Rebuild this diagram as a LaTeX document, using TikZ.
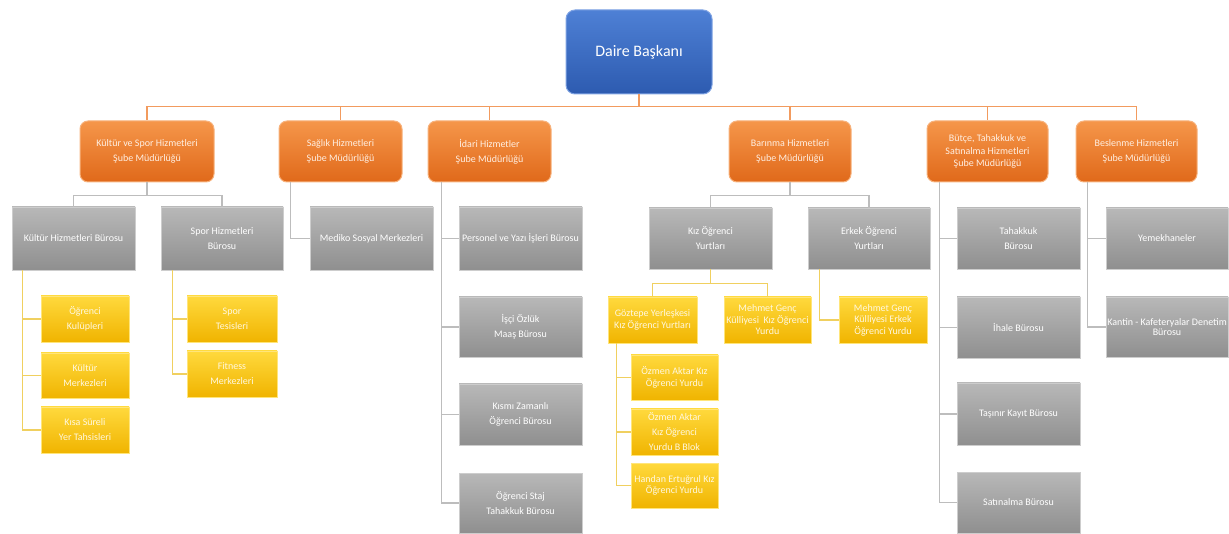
\documentclass[tikz,border=0pt]{standalone}
\usepackage{fontspec}
\setmainfont{Carlito}
\definecolor{blueA}{HTML}{4E80D5}
\definecolor{blueB}{HTML}{2D5BB0}
\definecolor{blueE}{HTML}{7FA3E3}
\definecolor{orA}{HTML}{F5964A}
\definecolor{orB}{HTML}{E0691A}
\definecolor{orE}{HTML}{F7B27C}
\definecolor{orT}{HTML}{FFEFE2}
\definecolor{grA}{HTML}{B8B8B8}
\definecolor{grB}{HTML}{8F8F8F}
\definecolor{grE}{HTML}{CDCDCD}
\definecolor{yeA}{HTML}{FFD93D}
\definecolor{yeB}{HTML}{F0B400}
\definecolor{yeE}{HTML}{FFE57A}
\definecolor{yeT}{HTML}{FFF8E0}
\definecolor{olc}{HTML}{F29B5E}
\definecolor{glc}{HTML}{BDBDBD}
\definecolor{ylc}{HTML}{F0D060}
\tikzset{
  base/.style={draw, inner sep=0pt, align=center, text=white, font=\fontsize{10}{15}\selectfont},
  bluebox/.style={base, rounded corners=9pt, top color=blueA, bottom color=blueB, draw=blueE, line width=1pt, font=\fontsize{16}{19}\selectfont},
  orbox/.style={base, rounded corners=8pt, top color=orA, bottom color=orB, draw=orE, line width=1pt, text=orT},
  grbox/.style={base, top color=grA, bottom color=grB, draw=grE, line width=0.8pt},
  yebox/.style={base, top color=yeA, bottom color=yeB, draw=yeE, line width=0.8pt, text=yeT},
  oline/.style={draw=olc, line width=1.2pt},
  gline/.style={draw=glc, line width=1.2pt},
  yline/.style={draw=ylc, line width=1.2pt},
  tight/.style={font=\fontsize{10}{11.5}\selectfont}
}
\newcommand\mkbox[7]{\node[#1, minimum width={#4-#2}, minimum height={#5-#3}] (#6) at ({(#2+#4)/2},{(#3+#5)/2}) {#7};}
\begin{document}
\begin{tikzpicture}[x=1pt,y=-1pt]
\useasboundingbox (0,0) rectangle (1229,534);
% top
\mkbox{bluebox}{566}{10}{712}{94}{top}{Daire Başkanı}
% level 1
\mkbox{orbox}{80}{121}{214}{182}{kul}{Kültür ve Spor Hizmetleri\\Şube Müdürlüğü}
\mkbox{orbox}{279}{121}{402}{182}{sag}{Sağlık Hizmetleri\\Şube Müdürlüğü}
\mkbox{orbox}{428}{121}{551}{182}{ida}{İdari Hizmetler\\Şube Müdürlüğü}
\mkbox{orbox}{729}{121}{851}{182}{bar}{Barınma Hizmetleri\\Şube Müdürlüğü}
\mkbox{orbox,font=\fontsize{10}{12.5}\selectfont}{927}{121}{1048}{182}{but}{Bütçe, Tahakkuk ve\\Satınalma Hizmetleri\\Şube Müdürlüğü}
\mkbox{orbox}{1076}{121}{1197}{182}{bes}{Beslenme Hizmetleri\\Şube Müdürlüğü}
% Kültür ve Spor
\mkbox{grbox}{12}{207}{135}{270}{khb}{Kültür Hizmetleri Bürosu}
\mkbox{grbox}{161}{207}{283}{270}{shb}{Spor Hizmetleri\\Bürosu}
\mkbox{yebox}{41}{296}{129}{342}{ok}{Öğrenci\\Kulüpleri}
\mkbox{yebox}{41}{353}{129}{398}{km}{Kültür\\Merkezleri}
\mkbox{yebox}{41}{407}{129}{453}{ks}{Kısa Süreli\\Yer Tahsisleri}
\mkbox{yebox}{187}{296}{277}{342}{st}{Spor\\Tesisleri}
\mkbox{yebox}{187}{351}{277}{397}{fm}{Fitness\\Merkezleri}
% Sağlık
\mkbox{grbox}{310}{207}{433}{270}{med}{Mediko Sosyal Merkezleri}
% İdari
\mkbox{grbox}{459}{207}{582}{270}{per}{Personel ve Yazı İşleri Bürosu}
\mkbox{grbox}{459}{297}{582}{357}{isc}{İşçi Özlük\\Maaş Bürosu}
\mkbox{grbox}{459}{384}{582}{445}{kzb}{Kısmı Zamanlı\\Öğrenci Bürosu}
\mkbox{grbox}{459}{473}{582}{533}{osb}{Öğrenci Staj\\Tahakkuk Bürosu}
% Barınma
\mkbox{grbox}{649}{208}{772}{269}{kiz}{Kız Öğrenci\\Yurtları}
\mkbox{grbox}{808}{208}{930}{269}{erk}{Erkek Öğrenci\\Yurtları}
\mkbox{yebox,tight}{608}{297}{697}{343}{goz}{Göztepe Yerleşkesi\\Kız Öğrenci Yurtları}
\mkbox{yebox,tight}{724}{297}{811}{343}{mgk}{Mehmet Genç\\Külliyesi\ \ Kız Öğrenci\\Yurdu}
\mkbox{yebox,tight}{839}{297}{927}{343}{mge}{Mehmet Genç\\Külliyesi Erkek\\Öğrenci Yurdu}
\mkbox{yebox,tight}{631}{355}{718}{400}{oa}{Özmen Aktar Kız\\Öğrenci Yurdu}
\mkbox{yebox}{631}{409}{718}{455}{oab}{Özmen Aktar\\Kız Öğrenci\\Yurdu B Blok}
\mkbox{yebox,tight}{631}{463}{718}{508}{han}{Handan Ertuğrul Kız\\Öğrenci Yurdu}
% Bütçe
\mkbox{grbox}{957}{208}{1080}{269}{tah}{Tahakkuk\\Bürosu}
\mkbox{grbox}{957}{297}{1080}{358}{iha}{İhale Bürosu}
\mkbox{grbox}{957}{383}{1080}{445}{tas}{Taşınır Kayıt Bürosu}
\mkbox{grbox}{957}{472}{1080}{533}{sat}{Satınalma Bürosu}
% Beslenme
\mkbox{grbox}{1106}{208}{1228}{269}{yem}{Yemekhaneler}
\mkbox{grbox,font=\fontsize{10}{10.5}\selectfont}{1106}{297}{1228}{357}{kan}{Kantin - Kafeteryalar Denetim\\Bürosu}
% connectors: top level
\foreach \c in {kul,sag,ida,bar,but,bes}
  \draw[oline] (top.south) -- ++(0,12) -| (\c.north);
% Kültür ve Spor
\foreach \c in {khb,shb}
  \draw[gline] (kul.south) -- ++(0,13) -| (\c.north);
\foreach \c in {ok,km,ks}
  \draw[yline] ([xshift=11pt]khb.south west) |- (\c.west);
\foreach \c in {st,fm}
  \draw[yline] ([xshift=12pt]shb.south west) |- (\c.west);
% Sağlık
\draw[gline] ([xshift=12pt]sag.south west) |- (med.west);
% İdari
\foreach \c in {per,isc,kzb,osb}
  \draw[gline] ([xshift=14pt]ida.south west) |- (\c.west);
% Barınma
\foreach \c in {kiz,erk}
  \draw[gline] (bar.south) -- ++(0,13) -| (\c.north);
\foreach \c in {goz,mgk}
  \draw[yline] (kiz.south) -- ++(0,14) -| (\c.north);
\draw[yline] ([xshift=12pt]erk.south west) |- (mge.west);
\foreach \c in {oa,oab,han}
  \draw[yline] ([xshift=9pt]goz.south west) |- (\c.west);
% Bütçe
\foreach \c in {tah,iha,tas,sat}
  \draw[gline] ([xshift=13pt]but.south west) |- (\c.west);
% Beslenme
\foreach \c in {yem,kan}
  \draw[gline] ([xshift=12pt]bes.south west) |- (\c.west);
\end{tikzpicture}
\end{document}
